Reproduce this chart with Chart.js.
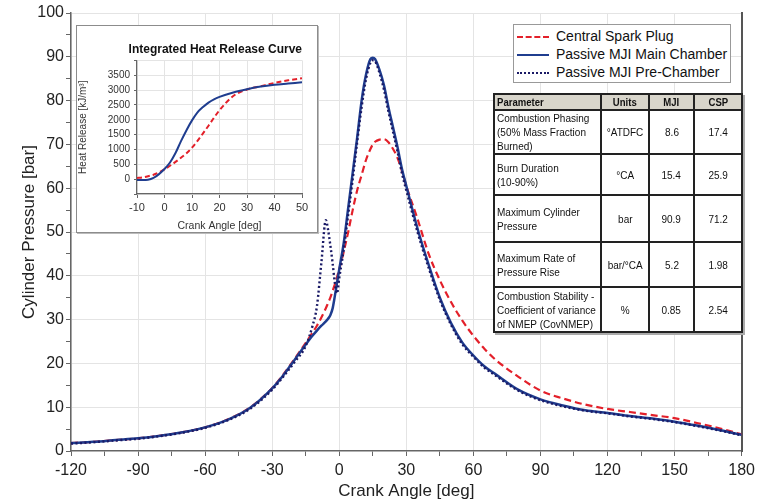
<!DOCTYPE html>
<html>
<head>
<meta charset="utf-8">
<script src="https://cdn.jsdelivr.net/npm/chart.js"></script>
<style>
  body { margin: 0; background: #fff; font-family: "Liberation Sans", Arial, sans-serif; }
  #wrap { position: relative; width: 760px; height: 502px; }
  #main { position: absolute; left: 0; top: 0; }
  #insetBox { position: absolute; left: 76px; top: 25px; width: 240px; height: 206px; background: #fff; border: 1px solid #8c8c8c; box-shadow: 1px 1px 0 #bbb; }
  #legend { position: absolute; left: 513px; top: 24px; width: 216px; height: 57px; background: #fff; border: 1px solid #999; font-size: 14px; color: #111; white-space: nowrap; }
  .lg { position: absolute; left: 3px; height: 18px; line-height: 18px; }
  .lg span { display: inline-block; width: 32px; vertical-align: middle; margin-right: 7px; }
  #params { position: absolute; left: 493px; top: 93px; width: 248px; table-layout: fixed; border-collapse: collapse; font-size: 11.5px; color: #111; background: #fff; box-shadow: 2px 2px 0 #aaa; }
  #params td, #params th { border: 2px solid #222; padding: 0 2px; line-height: 14px; white-space: nowrap; }
  #params th { background: #d8d5cb; font-weight: bold; text-align: center; height: 14px; font-size: 11px; }
  #params td { text-align: center; }
  #params .n { display: inline-block; transform: scaleX(0.87); transform-origin: 50% 50%; }
  #params th:first-child, #params td:first-child { text-align: left; }
  #params th:first-child .n, #params td:first-child .n { transform-origin: 0 50%; }
</style>
</head>
<body>
<div id="wrap">
  <canvas id="main" width="760" height="502"></canvas>
  <div id="insetBox"><canvas id="inset" width="240" height="206"></canvas></div>
  <div id="legend">
    <div class="lg" style="top:2px"><span style="border-top:2.5px dashed #e3202a"></span>Central Spark Plug</div>
    <div class="lg" style="top:20px"><span style="border-top:2.5px solid #1f3d8f"></span>Passive MJI Main Chamber</div>
    <div class="lg" style="top:38px"><span style="border-top:2.5px dotted #1a1a66"></span>Passive MJI Pre-Chamber</div>
  </div>
  <table id="params">
    <colgroup><col style="width:107px"><col style="width:48px"><col style="width:45px"><col style="width:48px"></colgroup>
    <tr><th><span class="n">Parameter</span></th><th><span class="n">Units</span></th><th><span class="n">MJI</span></th><th><span class="n">CSP</span></th></tr>
    <tr style="height:44px"><td><span class="n">Combustion Phasing<br>(50% Mass Fraction<br>Burned)</span></td><td><span class="n">°ATDFC</span></td><td><span class="n">8.6</span></td><td><span class="n">17.4</span></td></tr>
    <tr style="height:41px"><td><span class="n">Burn Duration<br>(10-90%)</span></td><td><span class="n">°CA</span></td><td><span class="n">15.4</span></td><td><span class="n">25.9</span></td></tr>
    <tr style="height:47px"><td><span class="n">Maximum Cylinder<br>Pressure</span></td><td><span class="n">bar</span></td><td><span class="n">90.9</span></td><td><span class="n">71.2</span></td></tr>
    <tr style="height:45px"><td><span class="n">Maximum Rate of<br>Pressure Rise</span></td><td><span class="n">bar/°CA</span></td><td><span class="n">5.2</span></td><td><span class="n">1.98</span></td></tr>
    <tr style="height:45px"><td><span class="n">Combustion Stability -<br>Coefficient of variance<br>of NMEP (CovNMEP)</span></td><td><span class="n">%</span></td><td><span class="n">0.85</span></td><td><span class="n">2.54</span></td></tr>
  </table>
</div>
<script>
// crank angle [deg]
const angles = [-120, -110, -100, -90, -80, -70, -60, -50, -40, -30, -25, -20, -15, -12, -10, -8, -6, -5, -4, -3, -2, -1, 0,
  2, 4, 6, 8, 10, 12, 14, 15, 16, 18, 20, 22, 24, 26, 28, 30, 35, 40, 45, 50, 55, 60, 65, 70, 80, 90,
  100, 110, 120, 130, 140, 150, 160, 170, 180];

// cylinder pressure [bar]
const cspPressure = [1.8, 2.1, 2.5, 2.9, 3.5, 4.3, 5.4, 7.2, 9.9, 14.4, 17.5, 21, 24.7, 27, 28.6, 30.5, 32.6, 33.8, 35, 36.5, 38, 39.7, 41.5,
  45.5, 50, 55, 59.5, 63, 66.5, 69, 70, 70.6, 71.1, 71.2, 70.5, 69, 67, 64, 60.5, 53, 45, 39, 34, 29.8, 26.3, 23.3, 20.8, 17, 13.8,
  12, 10.6, 9.6, 8.9, 8.2, 7.5, 6.4, 5.2, 3.8];
const mjiMainPressure = [1.8, 2.1, 2.5, 2.9, 3.5, 4.3, 5.4, 7.1, 9.8, 14.3, 17.3, 20.8, 24.3, 26.3, 27.5, 28.6, 29.6, 30.2, 31, 32.5, 35.3, 38.4, 41.5,
  47.5, 55.5, 63.5, 71.5, 80, 86, 89.5, 89.8, 89.5, 87, 83.5, 78.5, 74, 69.5, 64.5, 60.5, 50.8, 42.5, 35, 29.2, 24.8, 21.8, 19.3, 17.5, 14, 11.8,
  10.4, 9.3, 8.7, 8.0, 7.4, 6.7, 5.8, 4.8, 3.7];
const mjiPrePressure = [1.7, 2.0, 2.4, 2.8, 3.4, 4.2, 5.3, 7.0, 9.6, 14.0, 17.0, 20.3, 24, 28.5, 33, 43, 52.7, 50.5, 47, 43, 38.5, 36, 39.5,
  46, 54, 62, 70.5, 78.5, 85, 88.7, 89.2, 89, 86.3, 82.5, 77.5, 73, 68.5, 63.5, 59.5, 50, 41.8, 34.5, 28.8, 24.4, 21.5, 19, 17.2, 13.8, 11.6,
  10.2, 9.2, 8.6, 7.9, 7.3, 6.6, 5.7, 4.7, 3.6];

// integrated heat release [kJ/m3]
const hrAngles = [-10, -8, -6, -4, -2, 0, 2, 4, 6, 8, 10, 12, 14, 16, 18, 20, 25, 30, 35, 40, 45, 50];
const hrMji = [-30, -30, -20, 40, 170, 340, 560, 880, 1280, 1650, 1980, 2250, 2430, 2580, 2690, 2770, 2920, 3030, 3120, 3180, 3220, 3260];
const hrCsp = [40, 60, 100, 150, 230, 330, 450, 580, 720, 870, 1060, 1290, 1540, 1800, 2070, 2320, 2800, 3020, 3130, 3240, 3330, 3400];

const RED = '#e3202a', BLUE = '#1f3d8f', NAVY = '#1a1a66';
const AXIS = '#666', GRID = '#e4e4e4';

function pts(xs, ys) {
    return xs.map((x, i) => ({x: x, y: ys[i]}));
}

function manageMainChart() {
    let ctx = document.getElementById('main').getContext('2d');
    new Chart(ctx, {
        type: 'line',
        data: {
            datasets: [{
                label: 'Central Spark Plug',
                data: pts(angles, cspPressure),
                borderColor: RED,
                borderWidth: 2.2,
                borderDash: [7, 4],
                order: 3
            }, {
                label: 'Passive MJI Main Chamber',
                data: pts(angles, mjiMainPressure),
                borderColor: BLUE,
                borderWidth: 2.5,
                order: 2
            }, {
                label: 'Passive MJI Pre-Chamber',
                data: pts(angles, mjiPrePressure),
                borderColor: NAVY,
                borderWidth: 2.4,
                borderDash: [2, 2.5],
                order: 1
            }]
        },
        options: {
            responsive: false,
            animation: false,
            events: [],
            layout: {padding: {top: 13, right: 9, left: 19}},
            elements: {point: {radius: 0}, line: {cubicInterpolationMode: 'monotone'}},
            plugins: {legend: {display: false}, tooltip: {enabled: false}},
            scales: {
                x: {
                    type: 'linear', min: -120, max: 180,
                    afterFit: s => { s.height = 51; },
                    ticks: {
                        stepSize: 15, autoSkip: false, maxRotation: 0,
                        color: '#222', font: {size: 16, family: 'Liberation Sans'}, padding: 5,
                        callback: v => v % 30 === 0 ? v : ''
                    },
                    grid: {
                        color: c => c.tick && c.tick.value % 30 === 0 ? GRID : 'rgba(0,0,0,0)',
                        tickColor: AXIS, tickLength: 5
                    },
                    border: {color: AXIS, width: 1.5},
                    title: {display: true, text: 'Crank Angle [deg]', color: '#222', font: {size: 17, family: 'Liberation Sans'}, padding: 0}
                },
                y: {
                    min: 0, max: 100,
                    afterFit: s => { s.width = 52; },
                    ticks: {
                        stepSize: 5, autoSkip: false,
                        color: '#222', font: {size: 16, family: 'Liberation Sans'}, padding: 2,
                        callback: v => v % 10 === 0 ? v : ''
                    },
                    grid: {
                        color: c => c.tick && c.tick.value % 10 === 0 && c.tick.value > 0 ? GRID : 'rgba(0,0,0,0)',
                        tickColor: AXIS, tickLength: 5
                    },
                    border: {color: AXIS, width: 1.5},
                    title: {display: true, text: 'Cylinder Pressure [bar]', color: '#222', font: {size: 17, family: 'Liberation Sans'}, padding: 0}
                },
                y2: {
                    position: 'right', min: 0, max: 100,
                    afterFit: s => { s.width = 0; },
                    ticks: {display: false},
                    grid: {display: false},
                    border: {color: '#555', width: 2}
                }
            }
        }
    });
}

function manageInsetChart() {
    let ctx = document.getElementById('inset').getContext('2d');
    new Chart(ctx, {
        type: 'line',
        data: {
            datasets: [{
                label: 'Central Spark Plug',
                data: pts(hrAngles, hrCsp),
                borderColor: RED,
                borderWidth: 2,
                borderDash: [5, 3],
                order: 2
            }, {
                label: 'Passive MJI Main Chamber',
                data: pts(hrAngles, hrMji),
                borderColor: BLUE,
                borderWidth: 2,
                order: 1
            }]
        },
        options: {
            responsive: false,
            animation: false,
            events: [],
            layout: {padding: {right: 15, top: 0}},
            elements: {point: {radius: 0}, line: {cubicInterpolationMode: 'monotone'}},
            plugins: {
                legend: {display: false}, tooltip: {enabled: false},
                title: {display: true, text: 'Integrated Heat Release Curve', color: '#111',
                    font: {size: 12, weight: 'bold', family: 'Liberation Sans'}, padding: {top: 16, bottom: 4}, align: 'end'}
            },
            scales: {
                x: {
                    type: 'linear', min: -10, max: 50,
                    afterFit: s => { s.height = 38; },
                    ticks: {stepSize: 10, color: '#333', font: {size: 11, family: 'Liberation Sans'}, padding: 3, maxRotation: 0},
                    grid: {color: GRID, tickColor: AXIS, tickLength: 4},
                    border: {color: AXIS, width: 1.2},
                    title: {display: true, text: 'Crank Angle [deg]', color: '#333', font: {size: 10.5, family: 'Liberation Sans'}, padding: 0}
                },
                y: {
                    min: -500, max: 4000,
                    afterFit: s => { s.width = 60; },
                    ticks: {
                        stepSize: 500, autoSkip: false, color: '#333', font: {size: 10, family: 'Liberation Sans'}, padding: 4,
                        callback: v => (v >= 0 && v <= 3500) ? v : ''
                    },
                    grid: {color: GRID, tickColor: AXIS, tickLength: 3},
                    border: {color: AXIS, width: 1.2},
                    title: {display: true, text: 'Heat Release [kJ/m³]', color: '#333', font: {size: 10, family: 'Liberation Sans'}, padding: 0}
                }
            }
        }
    });
}

manageMainChart();
manageInsetChart();
</script>
</body>
</html>
